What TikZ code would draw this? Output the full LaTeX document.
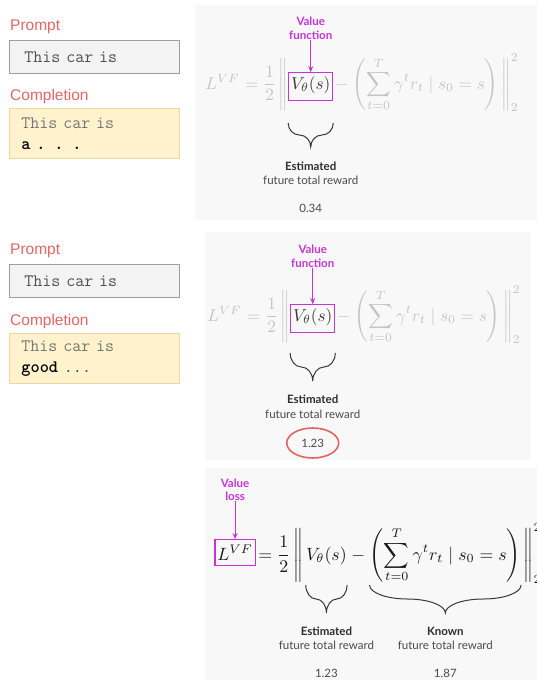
\documentclass[tikz,border=0pt]{standalone}
\usepackage[no-math]{fontspec}
\setmainfont{Lato}
\newfontfamily\arialf{Liberation Sans}
\usepackage{amsmath}
\usetikzlibrary{calc,fit,arrows.meta}
\definecolor{salmon}{HTML}{E06666}
\definecolor{pfill}{HTML}{F3F3F3}
\definecolor{pborder}{HTML}{9E9E9E}
\definecolor{cfill}{HTML}{FFF2CC}
\definecolor{cborder}{HTML}{EBD9A3}
\definecolor{ptext}{HTML}{505050}
\definecolor{ctext}{HTML}{767676}
\definecolor{mag}{RGB}{200,50,215}
\definecolor{fade}{HTML}{C4C4C4}
\definecolor{vdark}{HTML}{383838}
\definecolor{eqdark}{HTML}{1A1A1A}
\definecolor{bgc}{HTML}{F8F8F8}
\definecolor{lbl}{HTML}{2E2E2E}
\definecolor{lbl2}{HTML}{4A4A4A}
\tikzset{
  lab/.style={font=\arialf\fontsize{15.5}{17}\selectfont, text=salmon, anchor=west, inner sep=0},
  pbox/.style={draw=pborder, fill=pfill, line width=0.8pt, anchor=north west,
    minimum height=33pt, text width=140pt, inner xsep=15pt, align=left,
    font=\ttfamily\fontsize{17.5}{21}\selectfont, text=ptext},
  cbox/.style={draw=cborder, fill=cfill, line width=0.8pt, anchor=north west,
    minimum height=50pt, text width=146pt, inner xsep=12pt, inner ysep=5pt, align=left,
    font=\ttfamily\fontsize{17.5}{21}\selectfont, text=ctext},
  eqp/.style={inner sep=0, anchor=base west, transform shape},
  vbox/.style={draw=mag, line width=1.2pt, inner xsep=2pt, inner ysep=5pt},
  maglab/.style={font=\bfseries\fontsize{11.5}{13.5}\selectfont, text=mag, align=center, inner sep=0},
  magarrow/.style={draw=mag, line width=1pt, -{Stealth[length=6pt,width=5pt]}},
  brc/.style={draw=vdark, line width=1pt},
  boldlab/.style={font=\bfseries\fontsize{11.5}{13}\selectfont, text=lbl, inner sep=0},
  normlab/.style={font=\fontsize{11.5}{13}\selectfont, text=lbl2, inner sep=0},
  numlab/.style={font=\fontsize{11.5}{13}\selectfont, text=lbl2, inner sep=0},
}
\newcommand\vfeq[5]{%
  \node[eqp, scale=#3, text=#4] (#1L) at (#2) {$L^{VF}$};
  \node[eqp, scale=#3, text=#4] (#1B) at (#1L.base east) {${}=\dfrac{1}{2}\left\|\vphantom{\left(\displaystyle\sum_{t=0}^{T}\right)}\right.$};
  \node[eqp, scale=#3, text=#5] (#1V) at (#1B.base east) {$V_\theta(s)$};
  \node[eqp, scale=#3, text=#4] (#1M) at (#1V.base east) {${}-{}$};
  \node[eqp, scale=#3, text=#4] (#1P) at (#1M.base east) {$\displaystyle\left(\sum_{t=0}^{T}\gamma^t r_t\mid s_0=s\right)$};
  \node[eqp, scale=#3, text=#4] (#1E) at (#1P.base east) {$\left.\vphantom{\left(\displaystyle\sum_{t=0}^{T}\right)}\right\|_2^2$};
}
\newcommand\cbrace[3]{%
  \draw[brc] let \p1=(#1), \p2=(#2), \n1={(\x2-\x1)/4}, \n2={#3/2} in
  (\x1,\y1) .. controls (\x1,\y1-0.552*\n2) and (\x1+0.448*\n1,\y1-\n2) .. (\x1+\n1,\y1-\n2)
  .. controls (\x1+1.552*\n1,\y1-\n2) and (\x1+2*\n1,\y1-1.448*\n2) .. (\x1+2*\n1,\y1-2*\n2)
  .. controls (\x1+2*\n1,\y1-1.448*\n2) and (\x1+2.448*\n1,\y1-\n2) .. (\x1+3*\n1,\y1-\n2)
  .. controls (\x1+3.552*\n1,\y1-\n2) and (\x2,\y1-0.552*\n2) .. (\x2,\y1);
}
\begin{document}
\begin{tikzpicture}[x=1pt,y=-1pt]
\fill[white] (0,0) rectangle (537,680);
\useasboundingbox (0,0) rectangle (537,680);
% faint panels
\fill[bgc] (195,5) rectangle (537,220);
\fill[bgc] (205,232) rectangle (530,460);
\fill[bgc] (205,468) rectangle (537,680);

% ---------- left column, first example ----------
\node[lab] (p1) at (10,27) {Prompt};
\node[pbox] (pb1) at (9,40) {This car is};
\node[lab] (c1) at (10,96) {Completion};
\node[cbox] (cb1) at (9,108) {This car is\\{\color{black}\bfseries a . . .}};

% ---------- left column, second example ----------
\node[lab] (p2) at (10,251) {Prompt};
\node[pbox] (pb2) at (9,264) {This car is};
\node[lab] (c2) at (10,321) {Completion};
\node[cbox] (cb2) at (9,333) {This car is\\{\color{black}\bfseries good}\ {\color{vdark}...}};

% ---------- panel 1 ----------
\vfeq{a}{205,89}{1.72}{fade}{vdark}
\node[vbox, fit=(aV), yshift=-2pt] (aVB) {};
\node[maglab] (avf) at (aVB.north |- 0,28.5) {Value\\function};
\draw[magarrow] (avf) -- (aVB);
\cbrace{aVB.west |- 0,123}{aVB.east |- 0,123}{24}
\node[boldlab] (aes) at (aVB.center |- 0,166) {Estimated};
\node[normlab] (aft) at (aVB.center |- 0,180) {future total reward};
\node[numlab] (anum) at (aVB.center |- 0,208) {0.34};

% ---------- panel 2 ----------
\vfeq{b}{207,321}{1.72}{fade}{vdark}
\node[vbox, fit=(bV), yshift=-2pt] (bVB) {};
\node[maglab] (bvf) at (bVB.north |- 0,256.5) {Value\\function};
\draw[magarrow] (bvf) -- (bVB);
\cbrace{bVB.west |- 0,353}{bVB.east |- 0,353}{28}
\node[boldlab] (bes) at (bVB.center |- 0,399) {Estimated};
\node[normlab] (bft) at (bVB.center |- 0,414) {future total reward};
\node[numlab] (bnum) at (bVB.center |- 0,443) {1.23};
\draw[salmon, line width=1.6pt] (bnum) ellipse [x radius=26, y radius=15];

% ---------- panel 3 ----------
\vfeq{c}{217,560}{1.78}{eqdark}{eqdark}
\node[vbox, fit=(cL)] (cLB) {};
\node[maglab] (cvl) at (cLB.north |- 0,490) {Value\\loss};
\draw[magarrow] (cvl) -- (cLB);
\cbrace{cV.west |- 0,585}{cV.east |- 0,585}{28}
\cbrace{cP.west |- 0,585}{cP.east |- 0,585}{28}
\node[boldlab] (ces) at (cV.center |- 0,631) {Estimated};
\node[normlab] (cft) at (cV.center |- 0,645) {future total reward};
\node[numlab] (cnum) at (cV.center |- 0,673) {1.23};
\node[boldlab] (ckn) at (cP.center |- 0,631) {Known};
\node[normlab] (ckf) at (cP.center |- 0,645) {future total reward};
\node[numlab] (cknum) at (cP.center |- 0,673) {1.87};
\end{tikzpicture}
\end{document}
